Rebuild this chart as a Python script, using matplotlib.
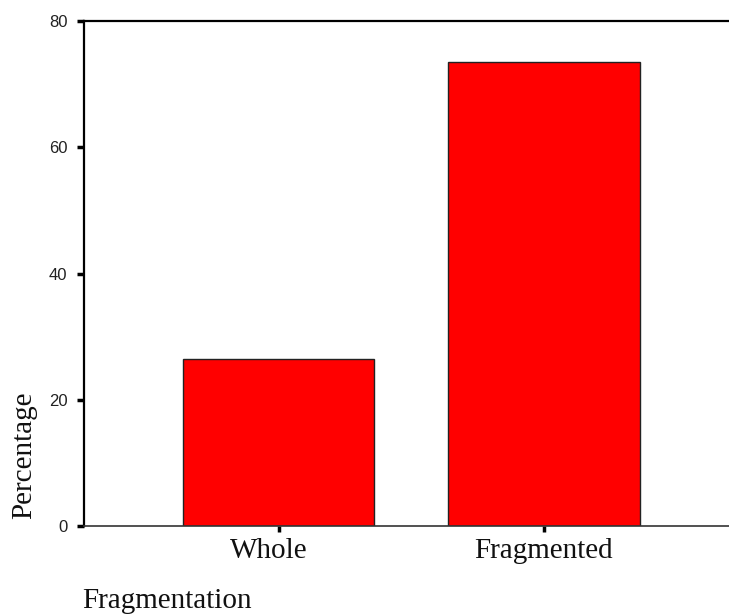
import matplotlib
matplotlib.use("Agg")
import matplotlib.pyplot as plt
import matplotlib.transforms as mtransforms

categories = ["Whole", "Fragmented"]
percentages = [26.5, 73.5]
y_ticks = [0, 20, 40, 60, 80]

fig = plt.figure(figsize=(7.29, 6.16), dpi=100)
ax = fig.add_axes([84/729, 90/616, 1 - 84/729, (526 - 21)/616])

x = list(range(len(categories)))
ax.bar(x, percentages, width=0.72, color="#ff0000", edgecolor="#222222", linewidth=1.0, zorder=2)

ax.set_xlim(-0.733, 1.697)
ax.set_ylim(0, 80)
ax.set_yticks(y_ticks)
ax.set_yticklabels([str(v) for v in y_ticks], family=["Liberation Sans", "DejaVu Sans"], fontsize=12, color="#222222")
ax.set_xticks(x)
ax.set_xticklabels(categories, family=["Liberation Serif", "DejaVu Serif"], fontsize=21, color="#111111")

ax.tick_params(axis="y", direction="out", length=5, width=2.5, pad=7, color="black")
ax.tick_params(axis="x", direction="out", length=4, width=2.5, pad=5, color="black")

# the "Whole" label sits slightly left of its tick in the reference
lbl = ax.get_xticklabels()[0]
lbl.set_transform(lbl.get_transform() + mtransforms.ScaledTranslation(-10/100, 0, fig.dpi_scale_trans))

for side in ["left", "top"]:
    ax.spines[side].set_linewidth(1.6)
    ax.spines[side].set_color("black")
ax.spines["bottom"].set_linewidth(1.2)
ax.spines["bottom"].set_color("#333333")
ax.spines["right"].set_visible(False)

fig.text(24/729, (616 - 455)/616, "Percentage", rotation=90, ha="center", va="center",
         family=["Liberation Serif", "DejaVu Serif"], fontsize=21, color="#111111")
fig.text(82/729, (616 - 608)/616, "Fragmentation", ha="left", va="baseline",
         family=["Liberation Serif", "DejaVu Serif"], fontsize=21, color="#111111")

fig.savefig("out.png", dpi=100, facecolor="white")
